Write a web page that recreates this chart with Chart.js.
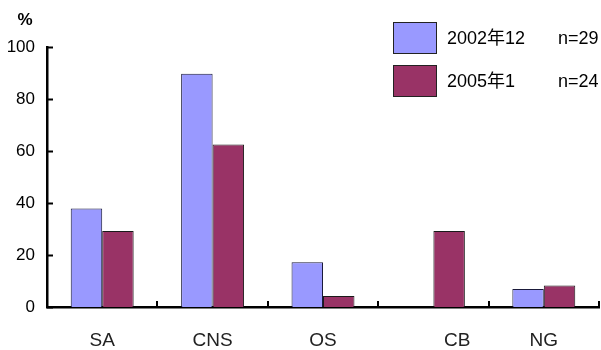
<!DOCTYPE html>
<html>
<head>
<meta charset="utf-8">
<script src="https://cdn.jsdelivr.net/npm/chart.js@4"></script>
<style>
  html, body { margin: 0; padding: 0; background: #ffffff; }
  #wrap { width: 601px; height: 350px; }
</style>
</head>
<body>
<div id="wrap"><canvas id="c" width="601" height="350"></canvas></div>
<script>
// Categories along the x axis
const categories = ['SA', 'CNS', 'OS', 'CB', 'NG'];

// Survey rounds (legend labels and sample sizes)
const seriesLabels = ['2002年12', '2005年1'];
const sampleSizes = ['n=29', 'n=24'];

// Percentages per category
const values2002 = [37.9, 89.7, 17.2, null, 6.9];
const values2005 = [29.2, 62.5, 4.2, 29.2, 8.3];

// Y axis tick values
const yTicks = [0, 20, 40, 60, 80, 100];

const FONT = "'Liberation Sans', Arial, 'Noto Sans CJK JP', sans-serif";
const colors = ['#9999ff', '#993366'];

// Axis ticks pointing into the plot, the "%" unit and the boxed legend
const decorations = {
  id: 'decorations',
  afterDraw(chart) {
    const ctx = chart.ctx;
    const area = chart.chartArea;
    const xs = chart.scales.x;
    const ys = chart.scales.y;
    ctx.save();
    ctx.strokeStyle = '#000';
    ctx.lineWidth = 2;
    // y ticks
    yTicks.forEach(v => {
      const py = Math.round(ys.getPixelForValue(v)) + 0.5;
      ctx.beginPath();
      ctx.moveTo(area.left, py);
      ctx.lineTo(area.left + 6, py);
      ctx.stroke();
    });
    // x ticks at category boundaries
    for (let i = 1; i <= categories.length; i++) {
      let px;
      if (i === categories.length) px = area.right;
      else px = (xs.getPixelForValue(i - 1) + xs.getPixelForValue(i)) / 2;
      px = Math.round(px);
      ctx.beginPath();
      ctx.moveTo(px, area.bottom);
      ctx.lineTo(px, area.bottom - 6);
      ctx.stroke();
    }
    // unit label
    ctx.fillStyle = '#000';
    ctx.font = 'bold 17px ' + FONT;
    ctx.textAlign = 'center';
    ctx.textBaseline = 'middle';
    ctx.fillText('%', area.left - 22, area.top - 27);

    // legend
    const lx = area.right - 206;
    const rows = [area.top - 25, area.top + 18];
    chart.data.datasets.forEach((ds, i) => {
      const top = rows[i];
      ctx.fillStyle = ds.backgroundColor;
      ctx.fillRect(lx, top, 43, 31);
      ctx.lineWidth = 1;
      ctx.strokeStyle = '#222';
      ctx.strokeRect(lx + 0.5, top + 0.5, 43, 31);
      ctx.fillStyle = '#000';
      ctx.font = '18px ' + FONT;
      ctx.textAlign = 'left';
      ctx.textBaseline = 'middle';
      ctx.fillText(ds.label, lx + 54, top + 17);
      ctx.fillText(sampleSizes[i], lx + 165, top + 17);
    });
    ctx.restore();
  }
};

new Chart(document.getElementById('c'), {
  type: 'bar',
  data: {
    labels: categories,
    datasets: [
      { label: seriesLabels[0], data: values2002, backgroundColor: colors[0], borderColor: '#1a1a3a', borderWidth: 1 },
      { label: seriesLabels[1], data: values2005, backgroundColor: colors[1], borderColor: '#1a1a1a', borderWidth: 1 }
    ]
  },
  options: {
    responsive: false,
    animation: false,
    layout: { padding: { top: 47, right: 2, left: 0, bottom: 0 } },
    plugins: { legend: { display: false }, tooltip: { enabled: false } },
    datasets: { bar: { categoryPercentage: 0.57, barPercentage: 1.0 } },
    scales: {
      x: {
        grid: { display: false, drawTicks: false },
        border: { display: true, color: '#000', width: 2.5 },
        ticks: {
          color: '#222', font: { family: FONT, size: 19 }, padding: 22,
          // a category with a single bar gets its label over that bar
          callback: (v, i) => (values2002[i] == null ? ' '.repeat(9) : '') + categories[i]
        },
        afterFit(s) { s.height = 43; }
      },
      y: {
        min: 0, max: 100,
        grid: { display: false, drawTicks: false },
        border: { display: true, color: '#000', width: 2.5 },
        ticks: {
          stepSize: 20, color: '#000', padding: 12,
          font: { family: FONT, size: 17 },
          callback: v => yTicks.includes(v) ? String(v) : ''
        },
        afterFit(s) { s.width = 47; }
      }
    }
  },
  plugins: [decorations]
});
</script>
</body>
</html>
